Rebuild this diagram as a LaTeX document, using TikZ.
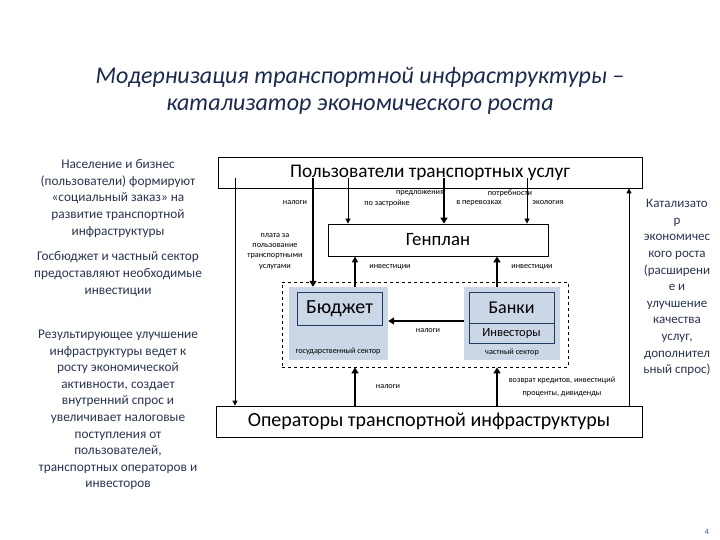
\documentclass[tikz,border=0pt]{standalone}
\usepackage{fontspec}
\setmainfont{Carlito}
\usetikzlibrary{arrows.meta,calc}
\definecolor{navy}{HTML}{1B2A4E}
\definecolor{bodytxt}{HTML}{2A3550}
\definecolor{sect}{HTML}{CBD6E6}
\definecolor{boxb}{HTML}{1F3864}
\definecolor{pgnum}{HTML}{3050A0}
\begin{document}
\begin{tikzpicture}[x=1pt,y=-1pt,
  frame/.style={draw=black, line width=0.8pt, rectangle, inner sep=0pt, text=black},
  sector/.style={fill=sect, draw=none, rectangle, inner sep=0pt},
  inbox/.style={draw=boxb, line width=0.8pt, rectangle, inner sep=0pt, text=black},
  lbl/.style={font=\fontsize{8.2}{9.5}\selectfont, text=black, inner sep=0pt, align=center},
  side/.style={font=\fontsize{13.3}{16.6}\selectfont, text=bodytxt, inner sep=0pt, align=center},
  thinarr/.style={line width=0.8pt, -{Triangle[length=5pt,width=5pt]}},
  thickarr/.style={line width=2.4pt, -{Triangle[length=6pt,width=7pt]}},
  medarr/.style={line width=1.6pt, -{Triangle[length=6pt,width=6pt]}}
]
\useasboundingbox (0,0) rectangle (720,540);
\fill[white] (0,0) rectangle (720,540);

% title
\node[font=\fontsize{24}{27}\selectfont\itshape, text=navy, align=center, inner sep=0pt] (title) at (360,90.5)
  {Модернизация транспортной инфраструктуры –\\катализатор экономического роста};

% side texts
\node[side] (p1) at (118,198.5) {Население и бизнес\\(пользователи) формируют\\«социальный заказ» на\\развитие транспортной\\инфраструктуры};
\node[side] (p2) at (118,274) {Госбюджет и частный сектор\\предоставляют необходимые\\инвестиции};
\node[side] (p3) at (118,410) {Результирующее улучшение\\инфраструктуры ведет к\\росту экономической\\активности, создает\\внутренний спрос и\\увеличивает налоговые\\поступления от\\пользователей,\\транспортных операторов и\\инвесторов};
\node[side, font=\fontsize{13}{16.6}\selectfont] (p4) at (677,287.5) {Катализато\\р\\экономичес\\кого роста\\(расширени\\е и\\улучшение\\качества\\услуг,\\дополнител\\ьный спрос)};

% main boxes
\node[frame, minimum width=424pt, minimum height=31pt, font=\fontsize{19.3}{20}\selectfont] (users) at (430,172.5) {Пользователи транспортных услуг};
\node[frame, minimum width=220pt, minimum height=32pt, font=\fontsize{18.8}{20}\selectfont] (genplan) at (438,240) {Генплан};
\node[frame, minimum width=426pt, minimum height=31pt, font=\fontsize{20}{21}\selectfont] (ops) at (429,421.5) {Операторы транспортной инфраструктуры};

% sectors
\node[draw=black, dashed, line width=0.8pt, rectangle, minimum width=286pt, minimum height=85pt, inner sep=0pt] (dash) at (425,324.5) {};
\node[sector, minimum width=99pt, minimum height=73pt] (gov) at (338.5,323.5) {};
\node[sector, minimum width=96pt, minimum height=73pt] (priv) at (512,323.5) {};
\node[inbox, minimum width=85pt, minimum height=33pt, font=\fontsize{20}{21}\selectfont] (budget) at (339.5,308.5) {Бюджет};
\node[inbox, minimum width=85pt, minimum height=31pt, font=\fontsize{18}{20}\selectfont] (banks) at (511.5,307.5) {Банки};
\node[inbox, minimum width=85pt, minimum height=20pt, font=\fontsize{12.5}{14}\selectfont] (inv) at (511.5,333) {Инвесторы};

% labels
\node[lbl] (l1) at (295,203) {налоги};
\node[lbl] (l2) at (420,193) {предложения};
\node[lbl] (l3) at (387,203) {по застройке};
\node[lbl] (l4) at (510,193) {потребности};
\node[lbl] (l5) at (479,203) {в перевозках};
\node[lbl] (l6) at (548,203) {экология};
\node[lbl, font=\fontsize{8.2}{10.3}\selectfont] (l7) at (275,251.5) {плата за\\пользование\\транспортными\\услугами};
\node[lbl] (l8) at (390,267) {инвестиции};
\node[lbl] (l9) at (532,267) {инвестиции};
\node[lbl] (l10) at (338,351) {государственный сектор};
\node[lbl] (l11) at (512,352) {частный сектор};
\node[lbl] (l12) at (428,331) {налоги};
\node[lbl] (l13) at (388,387) {налоги};
\node[lbl, font=\fontsize{8.2}{13}\selectfont] (l14) at (562,386.5) {возврат кредитов, инвестиций\\проценты, дивиденды};
\node[font=\fontsize{8}{9}\selectfont, text=pgnum, inner sep=0pt] (pg) at (707,532) {4};

% x positions of connectors
\coordinate (xa) at (235,0);
\coordinate (xb) at (313,0);
\coordinate (xc) at (348,0);
\coordinate (xd) at (444,0);
\coordinate (xe) at (527,0);
\coordinate (xf) at (355,0);
\coordinate (xg) at (497,0);
\coordinate (xh) at (629,0);
\coordinate (ym) at (0,321);

% connectors
\draw[thinarr] ([yshift=10pt]users.south -| xa) -- (ops.north -| xa);
\draw[thickarr] ([yshift=10pt]users.south -| xb) -- (gov.north -| xb);
\draw[thinarr] ([yshift=10pt]users.south -| xc) -- (genplan.north -| xc);
\draw[thickarr] ([yshift=10pt]users.south -| xd) -- (genplan.north -| xd);
\draw[thinarr] ([yshift=10pt]users.south -| xe) -- (genplan.north -| xe);
\draw[medarr] (gov.north -| xf) -- (genplan.south -| xf);
\draw[thickarr] (priv.north -| xg) -- (genplan.south -| xg);
\draw[thickarr] (priv.west |- ym) -- (gov.east |- ym);
\draw[thickarr] (ops.north -| xf) -- (dash.south -| xf);
\draw[thickarr] (ops.north -| xg) -- (dash.south -| xg);
\draw[thinarr] (ops.north -| xh) -- (users.south -| xh);
\end{tikzpicture}
\end{document}
